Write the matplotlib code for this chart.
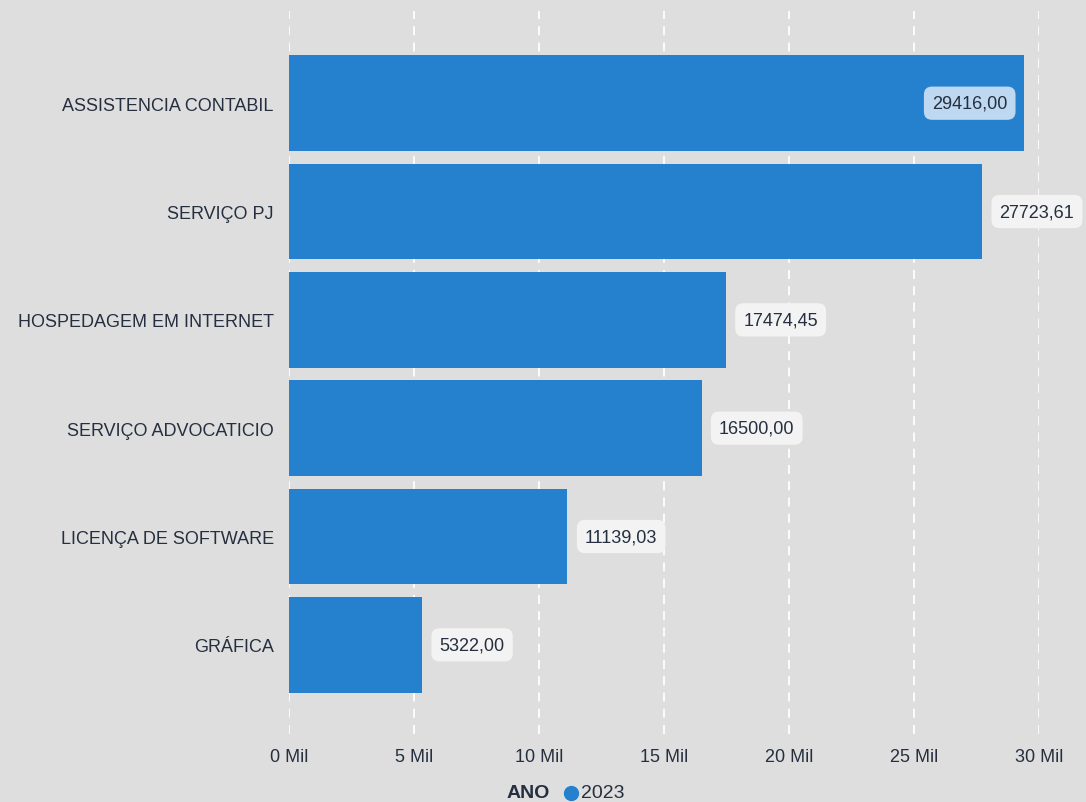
import matplotlib.pyplot as plt
from matplotlib.lines import Line2D

plt.rcParams["font.family"] = ["Liberation Sans", "DejaVu Sans"]

categorias = ["ASSISTENCIA CONTABIL", "SERVIÇO PJ", "HOSPEDAGEM EM INTERNET",
              "SERVIÇO ADVOCATICIO", "LICENÇA DE SOFTWARE", "GRÁFICA"]
valores = [29416.00, 27723.61, 17474.45, 16500.00, 11139.03, 5322.00]
ticks = [0, 5000, 10000, 15000, 20000, 25000, 30000]
tick_labels = ["0 Mil", "5 Mil", "10 Mil", "15 Mil", "20 Mil", "25 Mil", "30 Mil"]

fundo = "#DEDEDE"
azul = "#2580CD"
texto = "#252F3F"

fig = plt.figure(figsize=(10.86, 8.03), dpi=100, facecolor=fundo)
ax = fig.add_axes([289 / 1086, 1 - 735 / 803, 750 / 1086, 723 / 803])
ax.set_facecolor(fundo)

y = list(range(len(categorias)))
ax.barh(y, valores, height=0.885, color=azul, zorder=2)

ax.set_xlim(0, 30000)
ax.set_ylim(5.823, -0.851)
ax.set_xticks(ticks)
ax.set_xticklabels(tick_labels)
ax.set_yticks(y)
ax.set_yticklabels(categorias)
ax.tick_params(axis="both", length=0, labelsize=13, labelcolor=texto)
ax.tick_params(axis="y", pad=11)
ax.tick_params(axis="x", pad=10)
for s in ax.spines.values():
    s.set_visible(False)
ax.grid(axis="x", color="white", linestyle=(0, (5, 4)), linewidth=1.3, zorder=1)
ax.grid(axis="y", visible=False)

# rótulos de dados
for i, v in enumerate(valores):
    rotulo = f"{v:.2f}".replace(".", ",")
    if v > 28500:
        ax.text(v - 680, i, rotulo, ha="right", va="center", fontsize=13, color=texto,
                zorder=3, bbox=dict(boxstyle="round,pad=0.45,rounding_size=0.45",
                                    fc="white", ec="none", alpha=0.7))
    else:
        ax.text(v + 700, i, rotulo, ha="left", va="center", fontsize=13, color=texto,
                zorder=3, clip_on=False,
                bbox=dict(boxstyle="round,pad=0.45,rounding_size=0.45",
                          fc="#F3F3F3", ec="none"))

# legenda
fig.text(528 / 1086, 1 - 794 / 803, "ANO", ha="center", va="center",
         fontsize=14, fontweight="bold", color=texto)
fig.add_artist(Line2D([571 / 1086], [1 - 794 / 803], marker="o", markersize=10,
                      color=azul, linestyle="none", transform=fig.transFigure))
fig.text(581 / 1086, 1 - 794 / 803, "2023", ha="left", va="center",
         fontsize=14, color=texto)

fig.savefig("out.png", dpi=100, facecolor=fundo)
